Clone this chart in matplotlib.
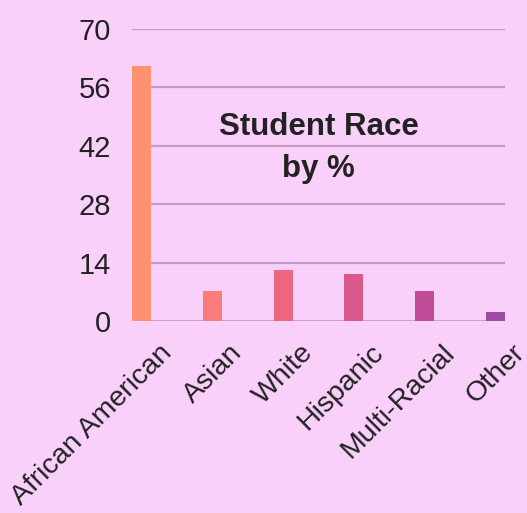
import numpy as np
import matplotlib.pyplot as plt
from matplotlib.transforms import ScaledTranslation

plt.rcParams['font.family'] = ['Liberation Sans', 'DejaVu Sans']

categories = ['African American', 'Asian', 'White', 'Hispanic', 'Multi-Racial', 'Other']
percent = [61.2, 7.3, 12.2, 11.3, 7.3, 2.2]
colors = ['#FF9070', '#F97C7A', '#EC6882', '#DA588C', '#C04C98', '#A04AA8']
yticks = [0, 14, 28, 42, 56, 70]

bg = '#F9D0F9'
grid = '#C49CC4'
txt = '#222222'

fig = plt.figure(figsize=(5.27, 5.13), dpi=100, facecolor=bg)
ax = fig.add_axes([0.2505, 0.3743, 0.7075, 0.5692], facecolor=bg)

x = np.arange(len(categories))
w = 0.27
ax.bar(x, percent, width=w, color=colors, zorder=3)

ax.set_xlim(-w / 2, x[-1] + w / 2)
ax.set_ylim(0, 70)
ax.set_yticks(yticks)
for v in yticks:
    ax.axhline(v, color=grid, lw=2.0 if v == 0 else 1.6, zorder=1)

for s in ax.spines.values():
    s.set_visible(False)
ax.tick_params(axis='y', length=0, labelsize=21, colors=txt, pad=15)
ax.tick_params(axis='x', length=0, labelsize=20.5, colors=txt)

ax.set_xticks(x)
ax.set_xticklabels(categories, rotation=45, ha='right', va='top', rotation_mode='anchor')
off = ScaledTranslation(0.17, -0.14, fig.dpi_scale_trans)
for lab in ax.get_xticklabels():
    lab.set_transform(lab.get_transform() + off)

ax.text(2.5, 41.5, 'Student Race\nby %', ha='center', va='center', fontsize=22.5,
        fontweight='bold', color=txt, linespacing=1.5, zorder=4)

fig.savefig('out.png', dpi=100, facecolor=bg)
